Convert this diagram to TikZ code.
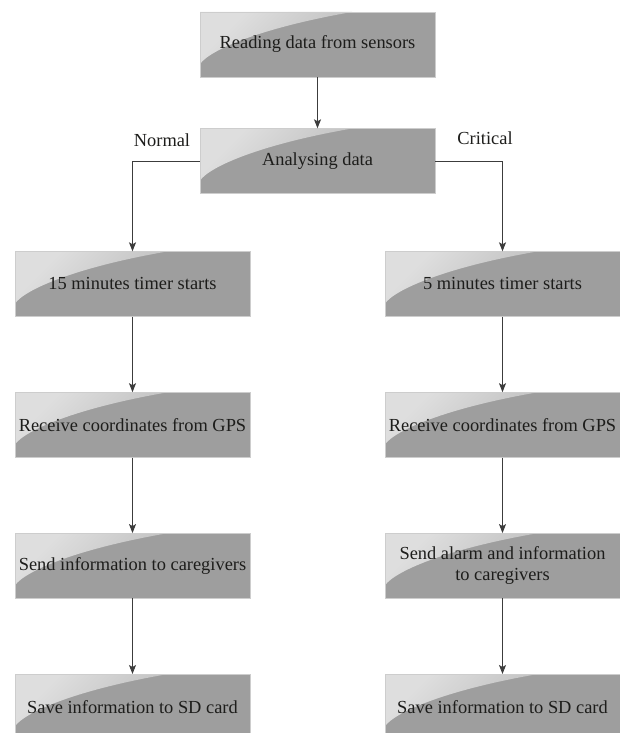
\documentclass[tikz,border=0pt]{standalone}
\usepackage{fontspec}
\setmainfont{Liberation Serif}
\newfontfamily\flowfont{Liberation Serif}
\usepackage{tikz}
\usetikzlibrary{positioning,arrows.meta}
\definecolor{colorbox}   {RGB}{158,158,158}
\definecolor{colorshine} {RGB}{222,222,222}
\definecolor{colorframe} {RGB}{205,205,205}
\definecolor{colorline}  {RGB}{60 ,60 ,60 }
\definecolor{colortext}  {RGB}{29 ,29 ,27 }

\begin{document}
\begin{tikzpicture}[
    x=1pt, y=1pt,
    node distance = 75.5pt,
    base/.style={text=colortext,font={\flowfont\fontsize{18.4}{21}\selectfont},align=center},
    stepbox/.style={base,rectangle,draw=colorframe,fill=colorbox,inner sep=0pt,
        minimum width=235pt,minimum height=65pt,
        path picture={
            \shade[top color=colorshine,bottom color=colorbox!88!white,shading angle=45]
                (path picture bounding box.north west)
                -- ([xshift=152pt]path picture bounding box.north west)
                .. controls ([xshift=60pt,yshift=-16pt]path picture bounding box.north west)
                and ([xshift=10pt,yshift=-38pt]path picture bounding box.north west)
                .. ([yshift=-52pt]path picture bounding box.north west) -- cycle;
        }},
    flow/.style={draw=colorline,line width=0.8pt,-{Stealth[length=9pt,width=7pt,inset=2pt]}},
]

    \useasboundingbox (0,0) rectangle (620,733);

    % Nodes
    \node[stepbox] (read)    at (317.5,688.5) {Reading data from sensors};
    \node[stepbox] (analyse) at (317.5,572)   {Analysing data};

    \node[stepbox] (ntimer)  at (132.5,449)            {15 minutes timer starts};
    \node[stepbox,below=of ntimer] (ngps)              {Receive coordinates from GPS};
    \node[stepbox,below=of ngps]   (nsend)             {Send information to caregivers};
    \node[stepbox,below=of nsend]  (nsave)             {Save information to SD card};

    \node[stepbox] (ctimer)  at (502.5,449)            {5 minutes timer starts};
    \node[stepbox,below=of ctimer] (cgps)              {Receive coordinates from GPS};
    \node[stepbox,below=of cgps]   (csend)             {Send alarm and information\\to caregivers};
    \node[stepbox,below=of csend]  (csave)             {Save information to SD card};

    % Text
    \node[base] (normal)   at (162,593) {Normal};
    \node[base] (critical) at (485,595) {Critical};

    % Arrows
    \draw[flow](read) -- (analyse);
    \draw[flow](analyse.west) -| (ntimer);
    \draw[flow](analyse.east) -| (ctimer);
    \draw[flow](ntimer) -- (ngps);
    \draw[flow](ngps) -- (nsend);
    \draw[flow](nsend) -- (nsave);
    \draw[flow](ctimer) -- (cgps);
    \draw[flow](cgps) -- (csend);
    \draw[flow](csend) -- (csave);

\end{tikzpicture}
\end{document}
